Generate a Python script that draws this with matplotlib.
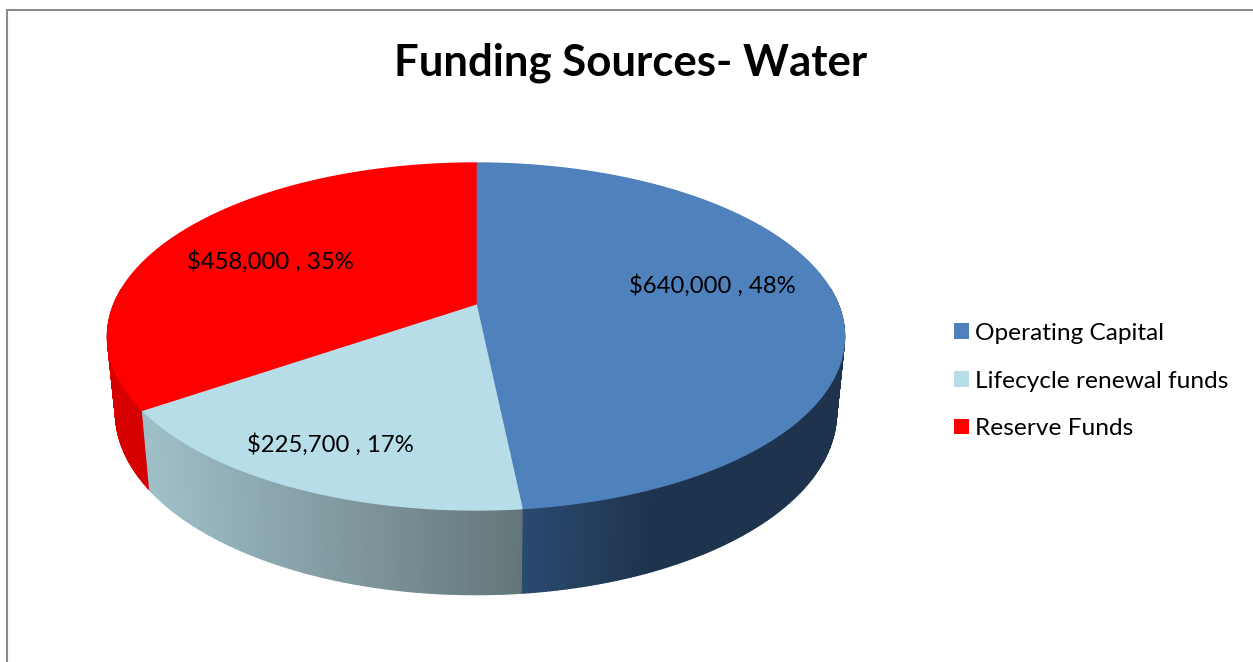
import matplotlib
matplotlib.use('Agg')
import matplotlib.pyplot as plt
from matplotlib.patches import Patch
import numpy as np

# funding data
sources = ['Operating Capital', 'Lifecycle renewal funds', 'Reserve Funds']
amounts = [640000, 225700, 458000]
top_colors = ['#4f81bd', '#b7dde8', '#ff0000']

plt.rcParams['font.family'] = ['Lato', 'DejaVu Sans']

fig = plt.figure(figsize=(12.53, 6.62), dpi=100)
ax = fig.add_axes([0, 0, 1, 1])
ax.set_xlim(0, 1253)
ax.set_ylim(662, 0)
ax.axis('off')

# perspective of the disc, in pixels
K = 0.1873
CX = 476


def rim(theta, y0, a, b):
    # theta is clockwise from 12 o'clock
    u, v = np.sin(theta), np.cos(theta)
    d = 1 + K * v
    return CX + a * u / d, y0 - b * v / d


def top_rim(theta):
    return rim(theta, 304, 362, 167.4)


def bottom_rim(theta):
    return rim(theta, 379, 354, 175.2)


def side_color(i, x):
    # shading of the outer wall changes with screen position
    if i == 0:
        t = np.clip((x - 522) / 130, 0, 1)
        c0, c1 = np.array([0x2b, 0x4a, 0x70]), np.array([0x1e, 0x34, 0x4e])
    elif i == 1:
        t = np.clip((x - 150) / 372, 0, 1)
        c0, c1 = np.array([0x9f, 0xbf, 0xc8]), np.array([0x64, 0x76, 0x7a])
    else:
        return '#d60000'
    return tuple((c0 + (c1 - c0) * t) / 255)


edges = np.cumsum([0] + amounts) / sum(amounts) * 2 * np.pi

# outer wall as thin quads, back ones first
quads = []
for i in range(len(amounts)):
    steps = np.linspace(edges[i], edges[i + 1], int((edges[i + 1] - edges[i]) * 120) + 2)
    for t0, t1 in zip(steps[:-1], steps[1:]):
        quads.append((np.cos((t0 + t1) / 2), i, t0, t1))
quads.sort(key=lambda q: -q[0])
for _, i, t0, t1 in quads:
    xt0, yt0 = top_rim(t0)
    xt1, yt1 = top_rim(t1)
    xb0, yb0 = bottom_rim(t0)
    xb1, yb1 = bottom_rim(t1)
    c = side_color(i, (xt0 + xt1) / 2)
    # the far half is hidden under the top face, no outline there
    ax.fill([xt0, xt1, xb1, xb0], [yt0, yt1, yb1, yb0], color=c, lw=1.0 if _ < 0.1 else 0)

# top face
for i in range(len(amounts)):
    th = np.linspace(edges[i], edges[i + 1], 300)
    xs, ys = top_rim(th)
    ax.fill(np.r_[CX, xs], np.r_[304, ys], color=top_colors[i], lw=1.0)

# data labels
label_pos = [(712, 286), (330, 445), (270, 262)]
for amt, (lx, ly) in zip(amounts, label_pos):
    pct = amt / sum(amounts) * 100
    ax.text(lx, ly, f'${amt:,} , {pct:.0f}%', fontsize=17.2, color='black',
            ha='center', va='center')

ax.text(631, 63, 'Funding Sources- Water', fontsize=31.5, fontweight='bold',
        color='black', ha='center', va='center')

handles = [Patch(facecolor=c, edgecolor='none') for c in top_colors]
ax.legend(handles, sources, loc='center left', bbox_to_anchor=(954 / 1253, 1 - 381 / 662),
          frameon=False, fontsize=17.6, labelspacing=1.09, handlelength=0.62,
          handleheight=0.62, handletextpad=0.25, borderpad=0, borderaxespad=0)

# chart area border, only top and left fall inside the figure
ax.plot([7, 1253], [10, 10], color='#8c8c8c', lw=1.5, solid_capstyle='butt')
ax.plot([7, 7], [9, 662], color='#8c8c8c', lw=1.5, solid_capstyle='butt')

fig.savefig('out.png', dpi=100)
